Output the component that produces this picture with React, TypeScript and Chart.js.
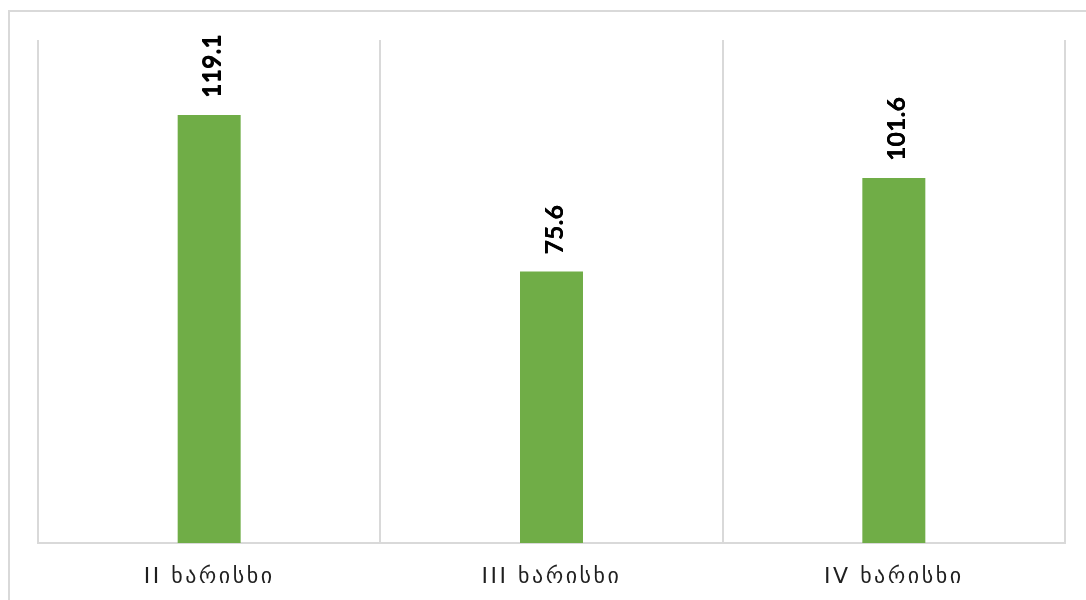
import React, { useEffect, useRef } from "react";
import { Chart, registerables } from "chart.js";

Chart.register(...registerables);

// Categories and values
const categories: string[] = ["II ხარისხი", "III ხარისხი", "IV ხარისხი"];
const values: number[] = [119.1, 75.6, 101.6];
const yMax = 140;

const barColor = "#70AD47";
const gridColor = "#d9d9d9";

// Rotated, bold value labels above each bar
const valueLabels = {
  id: "valueLabels",
  afterDatasetsDraw(chart: any) {
    const { ctx } = chart;
    const meta = chart.getDatasetMeta(0);
    ctx.save();
    ctx.letterSpacing = "0px";
    ctx.font = "bold 25px Lato, 'DejaVu Sans', sans-serif";
    ctx.fillStyle = "#000000";
    ctx.textAlign = "left";
    ctx.textBaseline = "alphabetic";
    meta.data.forEach((bar: any, i: number) => {
      const v = values[i];
      ctx.save();
      ctx.translate(bar.x + 11, bar.y - 17);
      ctx.rotate(-Math.PI / 2);
      ctx.fillText(v.toFixed(1), 0, 0);
      // slight second pass for a heavier stroke
      ctx.fillText(v.toFixed(1), 0, 0.4);
      ctx.restore();
    });
    ctx.restore();
  },
};

// Wider tracking for the category labels
const tickSpacing = {
  id: "tickSpacing",
  beforeDraw(chart: any) {
    chart.ctx.letterSpacing = "2.5px";
  },
  beforeDatasetsDraw(chart: any) {
    chart.ctx.letterSpacing = "0px";
  },
};

export default function App() {
  const canvasRef = useRef<HTMLCanvasElement | null>(null);

  useEffect(() => {
    if (!canvasRef.current) return;
    const chart = new Chart(canvasRef.current, {
      type: "bar",
      data: {
        labels: categories,
        datasets: [
          {
            data: values,
            backgroundColor: barColor,
            borderWidth: 0,
            categoryPercentage: 1,
            barPercentage: 0.184,
          },
        ],
      },
      options: {
        animation: false,
        responsive: false,
        maintainAspectRatio: false,
        layout: { padding: { left: 28, right: 21, top: 28, bottom: 0 } },
        plugins: {
          legend: { display: false },
          tooltip: { enabled: false },
        },
        scales: {
          x: {
            grid: {
              display: true,
              offset: true,
              color: gridColor,
              lineWidth: 2,
              drawTicks: false,
            },
            border: { display: true, color: gridColor, width: 2 },
            ticks: {
              color: "#1f1f1f",
              padding: 21,
              font: { family: "'DejaVu Sans', sans-serif", size: 22 },
              maxRotation: 0,
            },
            afterFit(scale: any) {
              scale.height = 47;
            },
          },
          y: {
            display: false,
            min: 0,
            max: yMax,
          },
        },
      },
      plugins: [tickSpacing, valueLabels],
    });
    return () => chart.destroy();
  }, []);

  return (
    <div
      style={{
        position: "fixed",
        left: 8,
        top: 10,
        width: 1078,
        height: 600,
        borderTop: `2px solid ${gridColor}`,
        borderLeft: `2px solid ${gridColor}`,
        background: "#ffffff",
      }}
    >
      <canvas
        ref={canvasRef}
        width={1076}
        height={578}
        style={{ position: "absolute", left: 0, top: 0, width: 1076, height: 578 }}
      />
    </div>
  );
}
